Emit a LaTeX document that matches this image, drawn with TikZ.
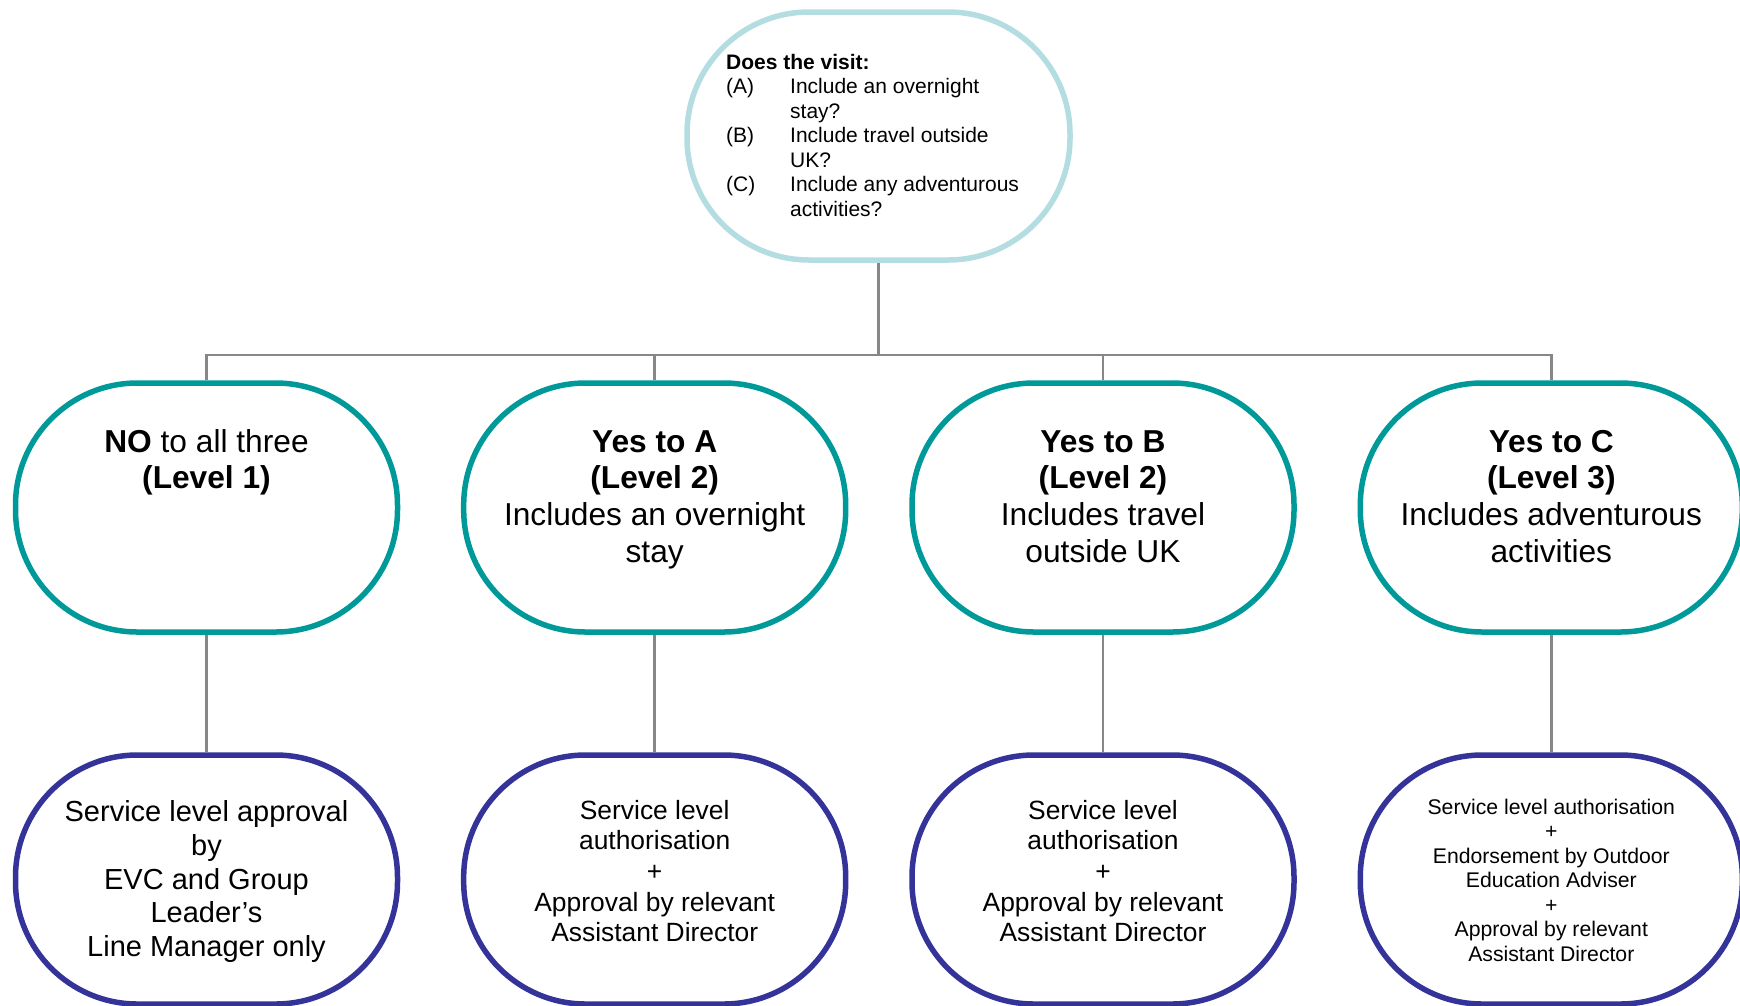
\documentclass[tikz,border=0pt]{standalone}
\usepackage{fontspec}
\setmainfont{Liberation Sans}
\usetikzlibrary{backgrounds}
\definecolor{lightb}{HTML}{B4DDE2}
\definecolor{tealc}{HTML}{009999}
\definecolor{navyc}{HTML}{333399}
\definecolor{connc}{HTML}{878787}
\newcommand{\mytab}[3]{\fontsize{#1}{#2}\selectfont\setlength{\tabcolsep}{0pt}\begin{tabular}[t]{c}#3\end{tabular}}
\begin{document}
\begin{tikzpicture}[x=1pt,y=-1pt,
  box/.style={rectangle, rounded corners=122pt, minimum width=382pt, minimum height=249pt, inner sep=0pt, line width=5.5pt, fill=white},
  topbox/.style={box, draw=lightb, minimum width=383pt, minimum height=248pt},
  midbox/.style={box, draw=tealc},
  botbox/.style={box, draw=navyc},
  txt/.style={anchor=base, inner sep=0pt},
  conn/.style={draw=connc, line width=2.5pt}]
\useasboundingbox (0,0) rectangle (1740,1005);

\coordinate (bus) at (878.5,355);
\node[topbox] (top) at (878.5,136) {};
\node[midbox] (m1) at (206.5,507.5) {};
\node[midbox] (m2) at (654.7,507.5) {};
\node[midbox] (m3) at (1103,507.5) {};
\node[midbox] (m4) at (1551.3,507.5) {};
\node[botbox] (b1) at (206.5,879.5) {};
\node[botbox] (b2) at (654.7,879.5) {};
\node[botbox] (b3) at (1103,879.5) {};
\node[botbox] (b4) at (1551.3,879.5) {};

\begin{scope}[on background layer]
\draw[conn] (top.south) -- (bus);
\draw[conn] (bus) -| (m1.north);
\draw[conn] (bus) -| (m2.north);
\draw[conn] (bus) -| (m3.north);
\draw[conn] (bus) -| (m4.north);
\draw[conn] (m1.south) -- (b1.north);
\draw[conn] (m2.south) -- (b2.north);
\draw[conn] (m3.south) -- (b3.north);
\draw[conn] (m4.south) -- (b4.north);
\end{scope}

% texts
\node[anchor=base west, inner sep=0pt] (toptxt) at (726,69)
  {\fontsize{21}{24.5}\selectfont\setlength{\tabcolsep}{0pt}%
   \begin{tabular}[t]{@{}p{64pt}@{}l@{}}
   \multicolumn{2}{@{}l@{}}{\textbf{Does the visit:}}\\
   (A) & Include an overnight\\
       & stay?\\
   (B) & Include travel outside\\
       & UK?\\
   (C) & Include any adventurous\\
       & activities?
   \end{tabular}};

\node[txt] (m1t) at (206.5,452) {\mytab{31.7}{36.7}{\textbf{NO} to all three\\ \textbf{(Level 1)}}};
\node[txt] (m2t) at (654.7,452) {\mytab{31.7}{36.7}{\textbf{Yes to A}\\ \textbf{(Level 2)}\\ Includes an overnight\\ stay}};
\node[txt] (m3t) at (1103,452) {\mytab{31.7}{36.7}{\textbf{Yes to B}\\ \textbf{(Level 2)}\\ Includes travel\\ outside UK}};
\node[txt] (m4t) at (1551.3,452) {\mytab{31.7}{36.7}{\textbf{Yes to C}\\ \textbf{(Level 3)}\\ Includes adventurous\\ activities}};

\node[txt] (b1t) at (206.5,821.7) {\mytab{29}{33.7}{Service level approval\\ by\\ EVC and Group\\ Leader’s\\ Line Manager only}};
\node[txt] (b2t) at (654.7,819) {\mytab{26.4}{30.7}{Service level\\ authorisation\\ +\\ Approval by relevant\\ Assistant Director}};
\node[txt] (b3t) at (1103,819) {\mytab{26.4}{30.7}{Service level\\ authorisation\\ +\\ Approval by relevant\\ Assistant Director}};
\node[txt] (b4t) at (1551.3,814) {\mytab{21.2}{24.5}{Service level authorisation\\ +\\ Endorsement by Outdoor\\ Education Adviser\\ +\\ Approval by relevant\\ Assistant Director}};
\end{tikzpicture}
\end{document}
